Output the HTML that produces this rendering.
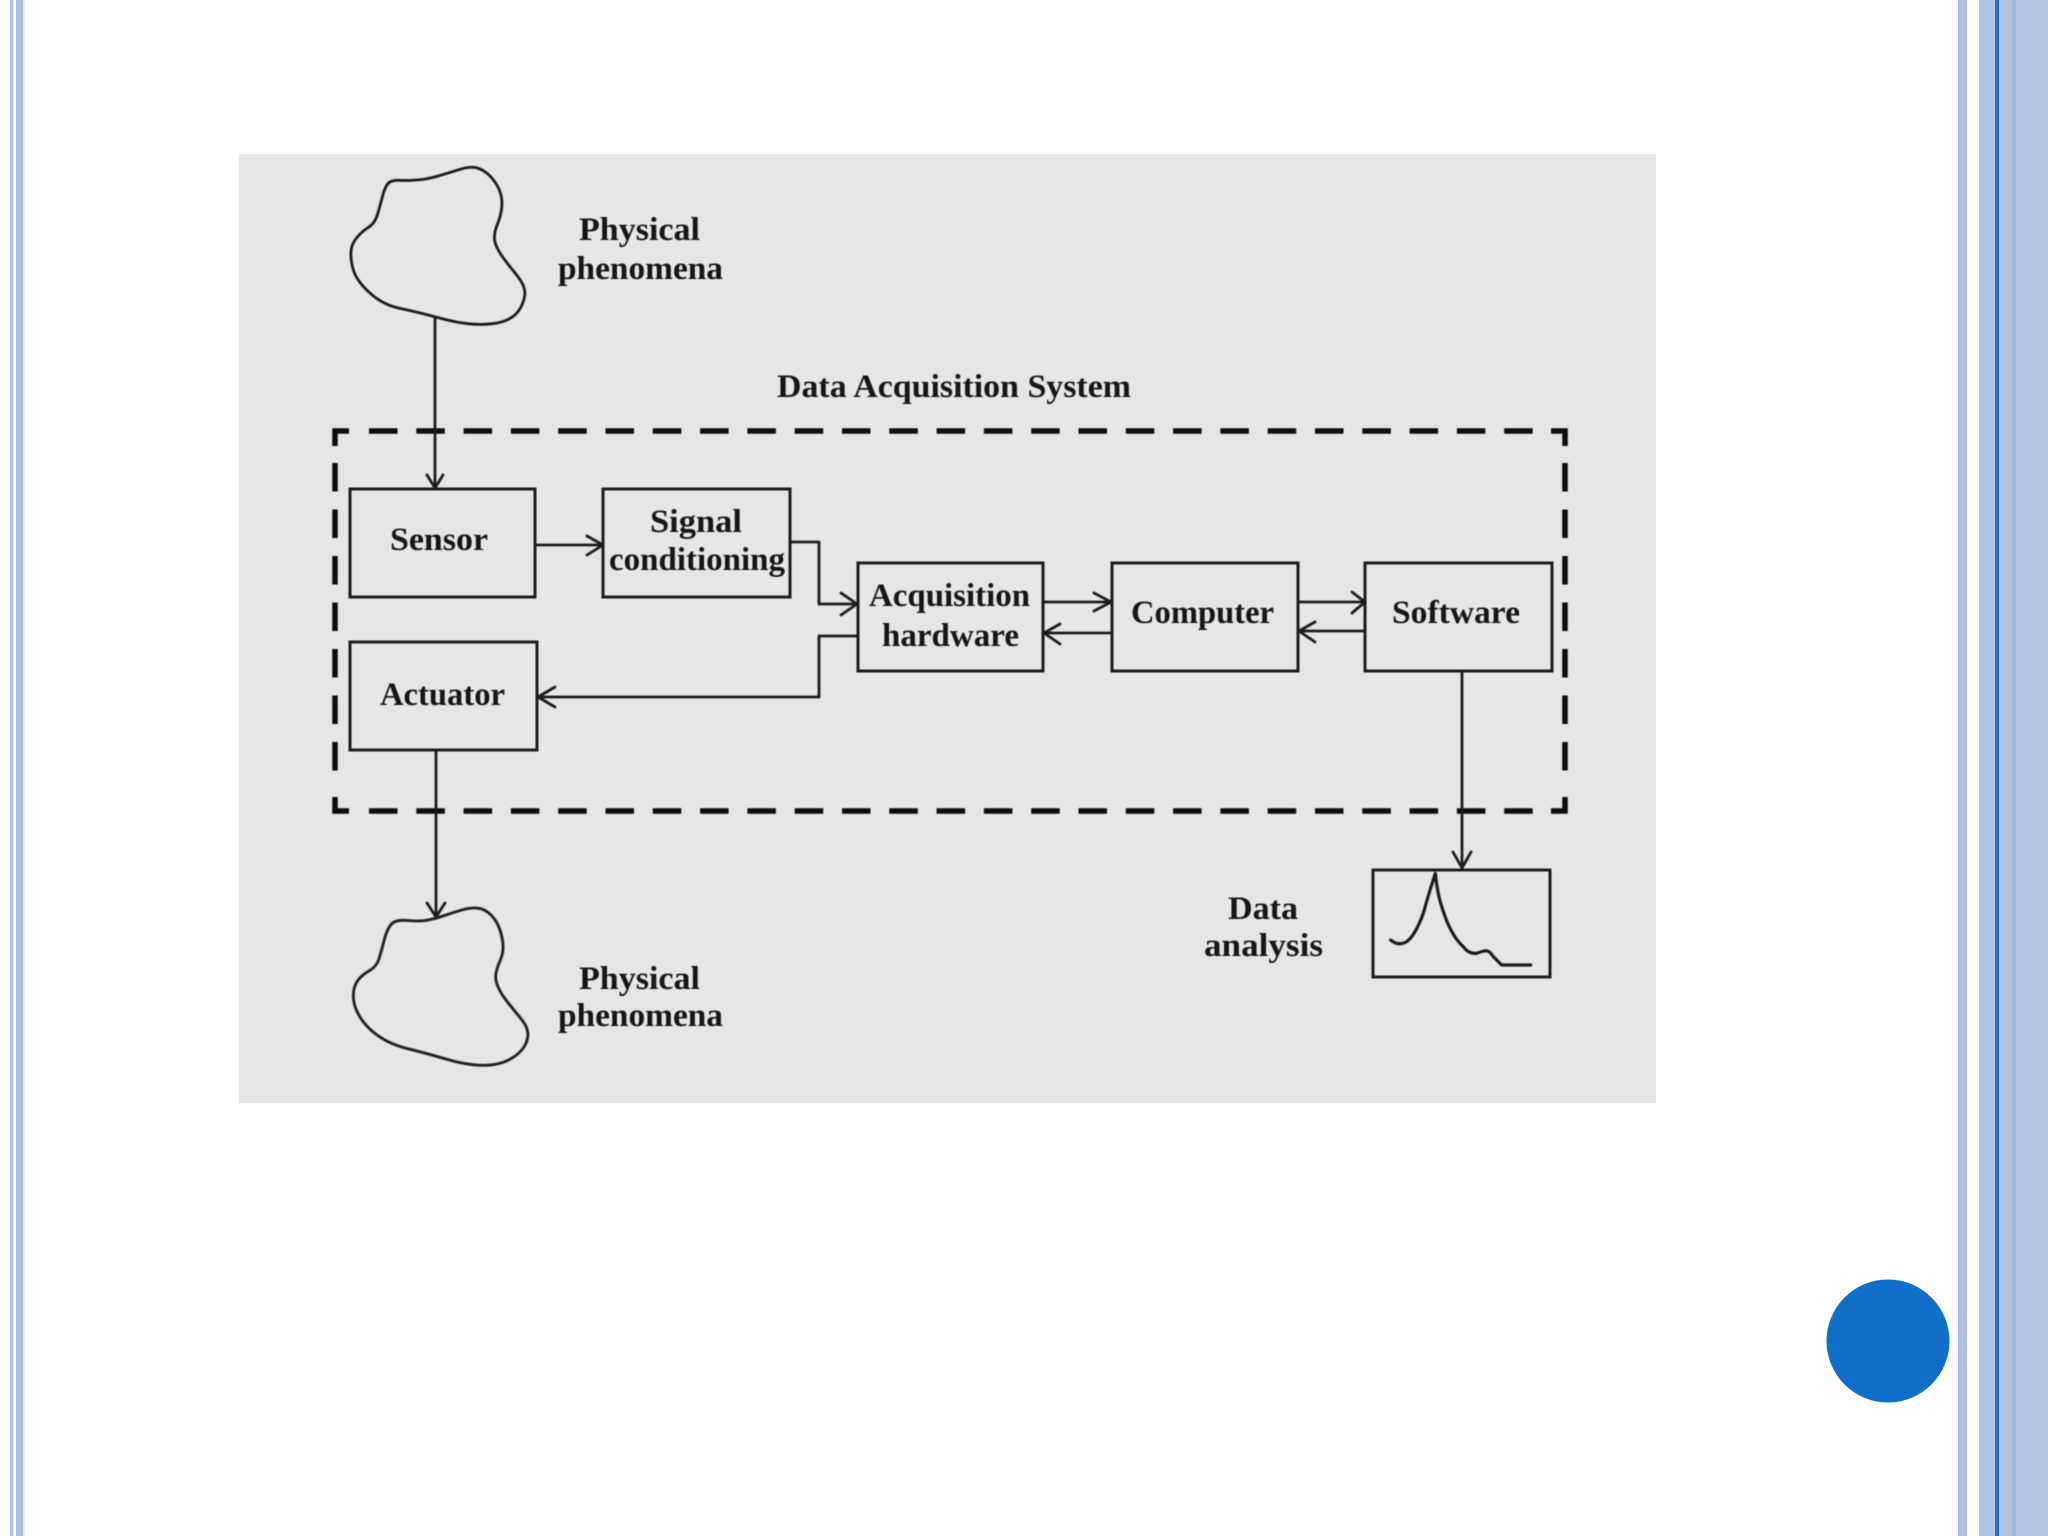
<!DOCTYPE html>
<html><head><meta charset="utf-8"><style>
html,body{margin:0;padding:0;background:#fff}
svg{display:block}
text{font-family:"Liberation Serif",serif;font-weight:700;font-size:33px;fill:#141414}
.l{fill:none;stroke:#1a1a1a;stroke-width:2.8;stroke-linejoin:round;stroke-linecap:round}
.b{fill:none;stroke:#1a1a1a;stroke-width:3}
.d{fill:none;stroke:#0a0a0a;stroke-width:5.5}
.v{fill:none;stroke:#0a0a0a;stroke-width:5.5}
</style></head><body>
<svg xmlns="http://www.w3.org/2000/svg" width="2048" height="1536" viewBox="0 0 2048 1536">
<defs><filter id="s" filterUnits="userSpaceOnUse" x="0" y="0" width="2048" height="1536"><feGaussianBlur stdDeviation="0.5"/></filter></defs>
<rect width="2048" height="1536" fill="#fff"/>
<!-- side bars -->
<rect x="10" y="0" width="3.5" height="1536" fill="#b3c5e5"/>
<rect x="16" y="0" width="7" height="1536" fill="#aabde0"/>
<rect x="23" y="0" width="1.5" height="1536" fill="#dde5f4"/>
<rect x="1958" y="0" width="9" height="1536" fill="#aebfe1"/>
<rect x="1979" y="0" width="16" height="1536" fill="#b1c4e4"/>
<rect x="1995" y="0" width="4" height="1536" fill="#1a6fc9"/>
<rect x="1999" y="0" width="13" height="1536" fill="#b4c2e0"/>
<rect x="2012" y="0" width="4" height="1536" fill="#9db6df"/>
<rect x="2016" y="0" width="32" height="1536" fill="#b3c5e2"/>
<circle cx="1888" cy="1341" r="61.5" fill="#0f6fc9"/>
<!-- figure -->
<rect x="239" y="154" width="1417" height="949" fill="#e7e6e7"/>
<g filter="url(#s)">
<path class="l" vector-effect="non-scaling-stroke" transform="translate(220 140) scale(0.3827 0.3333)" d="M437.5,132.5 Q445,120 467.5,121 Q490,122 515,120 Q540,118 570,108 Q600,98 627.5,88 Q655,78 672.5,84 Q690,90 705,107.5 Q720,125 729,147.5 Q738,170 736.5,197.5 Q735,225 725,252.5 Q715,280 717.5,300 Q720,320 735,345 Q750,370 770,397.5 Q790,425 795,445 Q800,465 790,492.5 Q780,520 760,534 Q740,548 710,551.5 Q680,555 650,551.5 Q620,548 590,539 Q560,530 530,521 Q500,512 470,505 Q440,498 417.5,481.5 Q395,465 375,440 Q355,415 348.5,390 Q342,365 342,340 Q342,315 356,295 Q370,275 387.5,262.5 Q405,250 412.5,220 Q420,190 425,167.5 Q430,145 437.5,132.5 Z"/>
<path class="l" transform="translate(320 880) scale(0.3333)" style="stroke-width:8.4" d="M212.5,134 Q225,118 262.5,121.5 Q300,125 325,120 Q350,115 375,106 Q400,97 425,90 Q450,83 470,84 Q490,85 507.5,100 Q525,115 535,137.5 Q545,160 548.5,187.5 Q552,215 541,240 Q530,265 527.5,282.5 Q525,300 535,322.5 Q545,345 567.5,372.5 Q590,400 606,420 Q622,440 623.5,460 Q625,480 612.5,500 Q600,520 575,535 Q550,550 520,554 Q490,558 457.5,554 Q425,550 397.5,542.5 Q370,535 335,525 Q300,515 265,506.5 Q230,498 202.5,484 Q175,470 152.5,450 Q130,430 115,402.5 Q100,375 100,347.5 Q100,320 112.5,302.5 Q125,285 147.5,272.5 Q170,260 177.5,235 Q185,210 192.5,180 Q200,150 212.5,134 Z"/>
<!-- dashed system boundary -->
<path class="v" d="M335 446V431H349"/>
<path class="d" d="M369 431H1535" stroke-dasharray="28.5 18.8"/>
<path class="v" d="M1551 431H1565V446"/>
<path class="v" d="M1565 463V775" stroke-dasharray="28.5 18"/>
<path class="v" d="M1565 797V811H1551"/>
<path class="d" d="M369 811H1535" stroke-dasharray="28.5 18.8"/>
<path class="v" d="M349 811H335V797"/>
<path class="v" d="M335 463V775" stroke-dasharray="28.5 18"/>
<!-- boxes -->
<rect class="b" x="350" y="489" width="185" height="108"/>
<rect class="b" x="603" y="489" width="187" height="108"/>
<rect class="b" x="858" y="563" width="185" height="108"/>
<rect class="b" x="1112" y="563" width="186" height="108"/>
<rect class="b" x="1365" y="563" width="187" height="108"/>
<rect class="b" x="350" y="642" width="187" height="108"/>
<rect class="b" x="1373" y="870" width="177" height="107"/>
<!-- connectors -->
<path class="l" d="M435 317V488M427 475L435 488L443 475"/>
<path class="l" d="M536 545H603M587 536L603 545L587 555"/>
<path class="l" d="M790 542H819V604H857M841 593L857 604L841 615"/>
<path class="l" d="M858 636H819V697H538M555 687L538 697L555 707"/>
<path class="l" d="M1043 602H1111M1094 593L1111 602L1094 611"/>
<path class="l" d="M1112 633H1044M1060 624L1044 633L1060 644"/>
<path class="l" d="M1298 602H1365M1352 592L1365 602L1352 613"/>
<path class="l" d="M1365 631H1299M1315 622L1299 631L1315 642"/>
<path class="l" d="M1462 671V868M1453 852L1462 868L1471 852"/>
<path class="l" d="M436 750V917M427 903L436 917L445 903"/>
<path class="l" transform="translate(1300 780) scale(0.3333)" style="stroke-width:9.5" d="M272,480 Q295,500 320,485 Q345,468 370,400 Q385,345 406,280 Q412,345 430,395 Q455,470 490,500 Q505,522 530,520 Q550,512 560,512 Q570,514 580,530 L605,555 H692"/>
<!-- labels -->
<text x="579" y="240" textLength="121" lengthAdjust="spacingAndGlyphs">Physical</text>
<text x="558" y="279" textLength="165" lengthAdjust="spacingAndGlyphs">phenomena</text>
<text x="777" y="397" textLength="354" lengthAdjust="spacingAndGlyphs">Data Acquisition System</text>
<text x="390" y="550" textLength="98" lengthAdjust="spacingAndGlyphs">Sensor</text>
<text x="650" y="532" textLength="92" lengthAdjust="spacingAndGlyphs">Signal</text>
<text x="609" y="570" textLength="176" lengthAdjust="spacingAndGlyphs">conditioning</text>
<text x="869" y="606" textLength="161" lengthAdjust="spacingAndGlyphs">Acquisition</text>
<text x="882" y="646" textLength="137" lengthAdjust="spacingAndGlyphs">hardware</text>
<text x="1131" y="623" textLength="143" lengthAdjust="spacingAndGlyphs">Computer</text>
<text x="1392" y="623" textLength="128" lengthAdjust="spacingAndGlyphs">Software</text>
<text x="380" y="705" textLength="125" lengthAdjust="spacingAndGlyphs">Actuator</text>
<text x="1228" y="919" textLength="70" lengthAdjust="spacingAndGlyphs">Data</text>
<text x="1204" y="956" textLength="119" lengthAdjust="spacingAndGlyphs">analysis</text>
<text x="579" y="989" textLength="121" lengthAdjust="spacingAndGlyphs">Physical</text>
<text x="558" y="1026" textLength="165" lengthAdjust="spacingAndGlyphs">phenomena</text>
</g>
</svg>
</body></html>
